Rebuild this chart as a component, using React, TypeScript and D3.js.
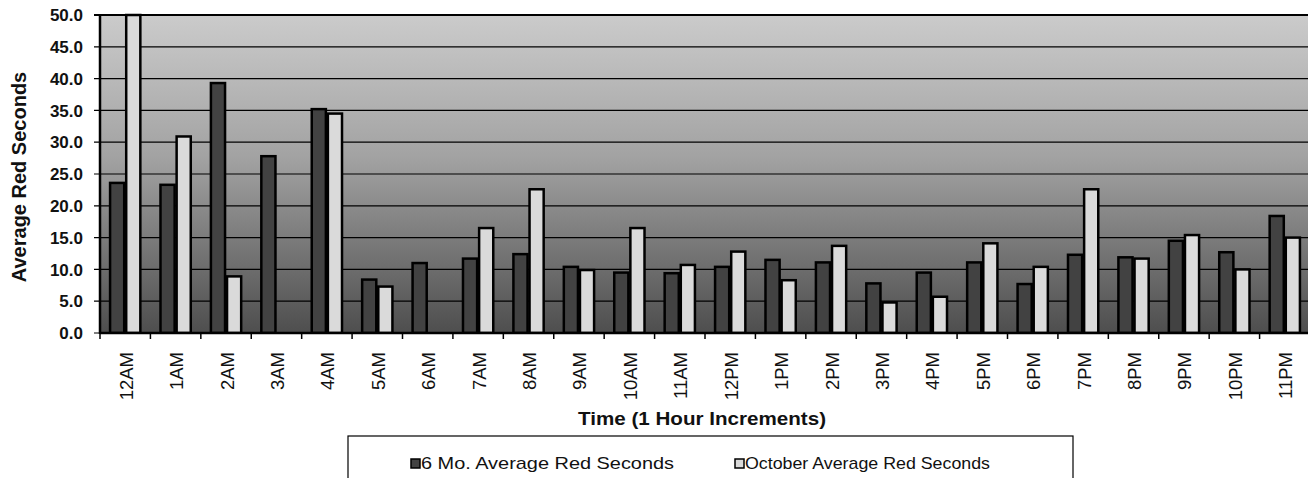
import React from "react";
import * as d3 from "d3";

const hours = ["12AM","1AM","2AM","3AM","4AM","5AM","6AM","7AM","8AM","9AM","10AM","11AM","12PM","1PM","2PM","3PM","4PM","5PM","6PM","7PM","8PM","9PM","10PM","11PM"];
const sixMonth = [23.6,23.3,39.3,27.8,35.2,8.4,11.0,11.7,12.4,10.4,9.5,9.4,10.4,11.5,11.1,7.8,9.5,11.1,7.7,12.3,11.9,14.5,12.7,18.4];
const october = [50.0,30.9,8.9,0,34.5,7.3,0,16.5,22.6,9.9,16.5,10.7,12.8,8.3,13.7,4.8,5.7,14.1,10.4,22.6,11.7,15.4,10.0,15.0];
const seriesNames = ["6 Mo. Average Red Seconds", "October Average Red Seconds"];
const yTicks = [0,5,10,15,20,25,30,35,40,45,50];

const W = 1308, H = 478;
const left = 100, right = 1310, top = 15, bottom = 333;

export default function App() {
  const x0 = d3.scaleBand<string>().domain(hours).range([left, right]).paddingInner(0.36).paddingOuter(0.18);
  const x1 = d3.scaleBand<string>().domain(seriesNames).range([0, x0.bandwidth()]);
  const y = d3.scaleLinear().domain([0, 50]).range([bottom, top]);
  const step = x0.step();
  const fills = ["#424242", "#dadada"];
  const series = [sixMonth, october];
  const font = "Arial, 'Liberation Sans', Helvetica, sans-serif";

  return (
    <svg width={W} height={H} style={{ position: "absolute", left: 0, top: 0, background: "#fff" }} fontFamily={font}>
      <defs>
        <linearGradient id="bg" x1="0" y1="0" x2="0" y2="1">
          <stop offset="0" stopColor="#cbcbcb" />
          <stop offset="0.45" stopColor="#a2a2a2" />
          <stop offset="1" stopColor="#4e4e4e" />
        </linearGradient>
        <clipPath id="plotclip">
          <rect x={left} y={top - 6} width={W - left} height={bottom - top + 6} />
        </clipPath>
      </defs>
      <rect x={left} y={top} width={W - left} height={bottom - top} fill="url(#bg)" />
      {yTicks.map((t) => (
        <g key={t}>
          <line x1={left - 6} x2={W} y1={y(t)} y2={y(t)} stroke="#000" strokeWidth={t === 50 ? 2 : 1.2} />
          <text x={83} y={y(t)} dy="0.36em" textAnchor="end" fontSize={17} fontWeight="bold" fill="#111">{t.toFixed(1)}</text>
        </g>
      ))}
      <g clipPath="url(#plotclip)">
        {hours.map((h, i) => (
          <g key={h} transform={`translate(${x0(h)},0)`}>
            {series.map((s, k) => {
              const v = s[i];
              if (!v) return null;
              return (
                <rect key={k} x={(x1(seriesNames[k]) as number) + 1} y={y(v)} width={x1.bandwidth() - 2} height={bottom - y(v)}
                  fill={fills[k]} stroke="#000" strokeWidth={2.5} />
              );
            })}
          </g>
        ))}
      </g>
      <line x1={left} x2={left} y1={top} y2={bottom + 1} stroke="#000" strokeWidth={2.5} />
      <line x1={left} x2={W} y1={bottom} y2={bottom} stroke="#000" strokeWidth={2.5} />
      {hours.map((h, i) => {
        const tx = left + i * step;
        return <line key={"t" + h} x1={tx} x2={tx} y1={bottom} y2={bottom + 6} stroke="#000" strokeWidth={1.5} />;
      })}
      {hours.map((h) => {
        const cx = (x0(h) as number) + x0.bandwidth() / 2;
        return (
          <text key={"l" + h} transform={`translate(${cx + 7.5},352) rotate(-90)`} textAnchor="end" fontSize={18.5} fill="#111">{h}</text>
        );
      })}
      <text x={578} y={425} fontSize={19} fontWeight="bold" fill="#111" textLength={248} lengthAdjust="spacingAndGlyphs">Time (1 Hour Increments)</text>
      <text transform="translate(26,177) rotate(-90)" textAnchor="middle" fontSize={20} fontWeight="bold" fill="#111">Average Red Seconds</text>
      <rect x={348} y={436} width={725} height={60} fill="#fff" stroke="#000" strokeWidth={1.2} />
      {seriesNames.map((n, k) => {
        const lx = k === 0 ? 411 : 735;
        return (
          <g key={n}>
            <rect x={lx} y={459} width={9} height={9} fill={fills[k]} stroke="#000" strokeWidth={1.5} />
            <text x={lx + 10} y={469} fontSize={17} fill="#111" textLength={k === 0 ? 253 : 245} lengthAdjust="spacingAndGlyphs">{n}</text>
          </g>
        );
      })}
    </svg>
  );
}
